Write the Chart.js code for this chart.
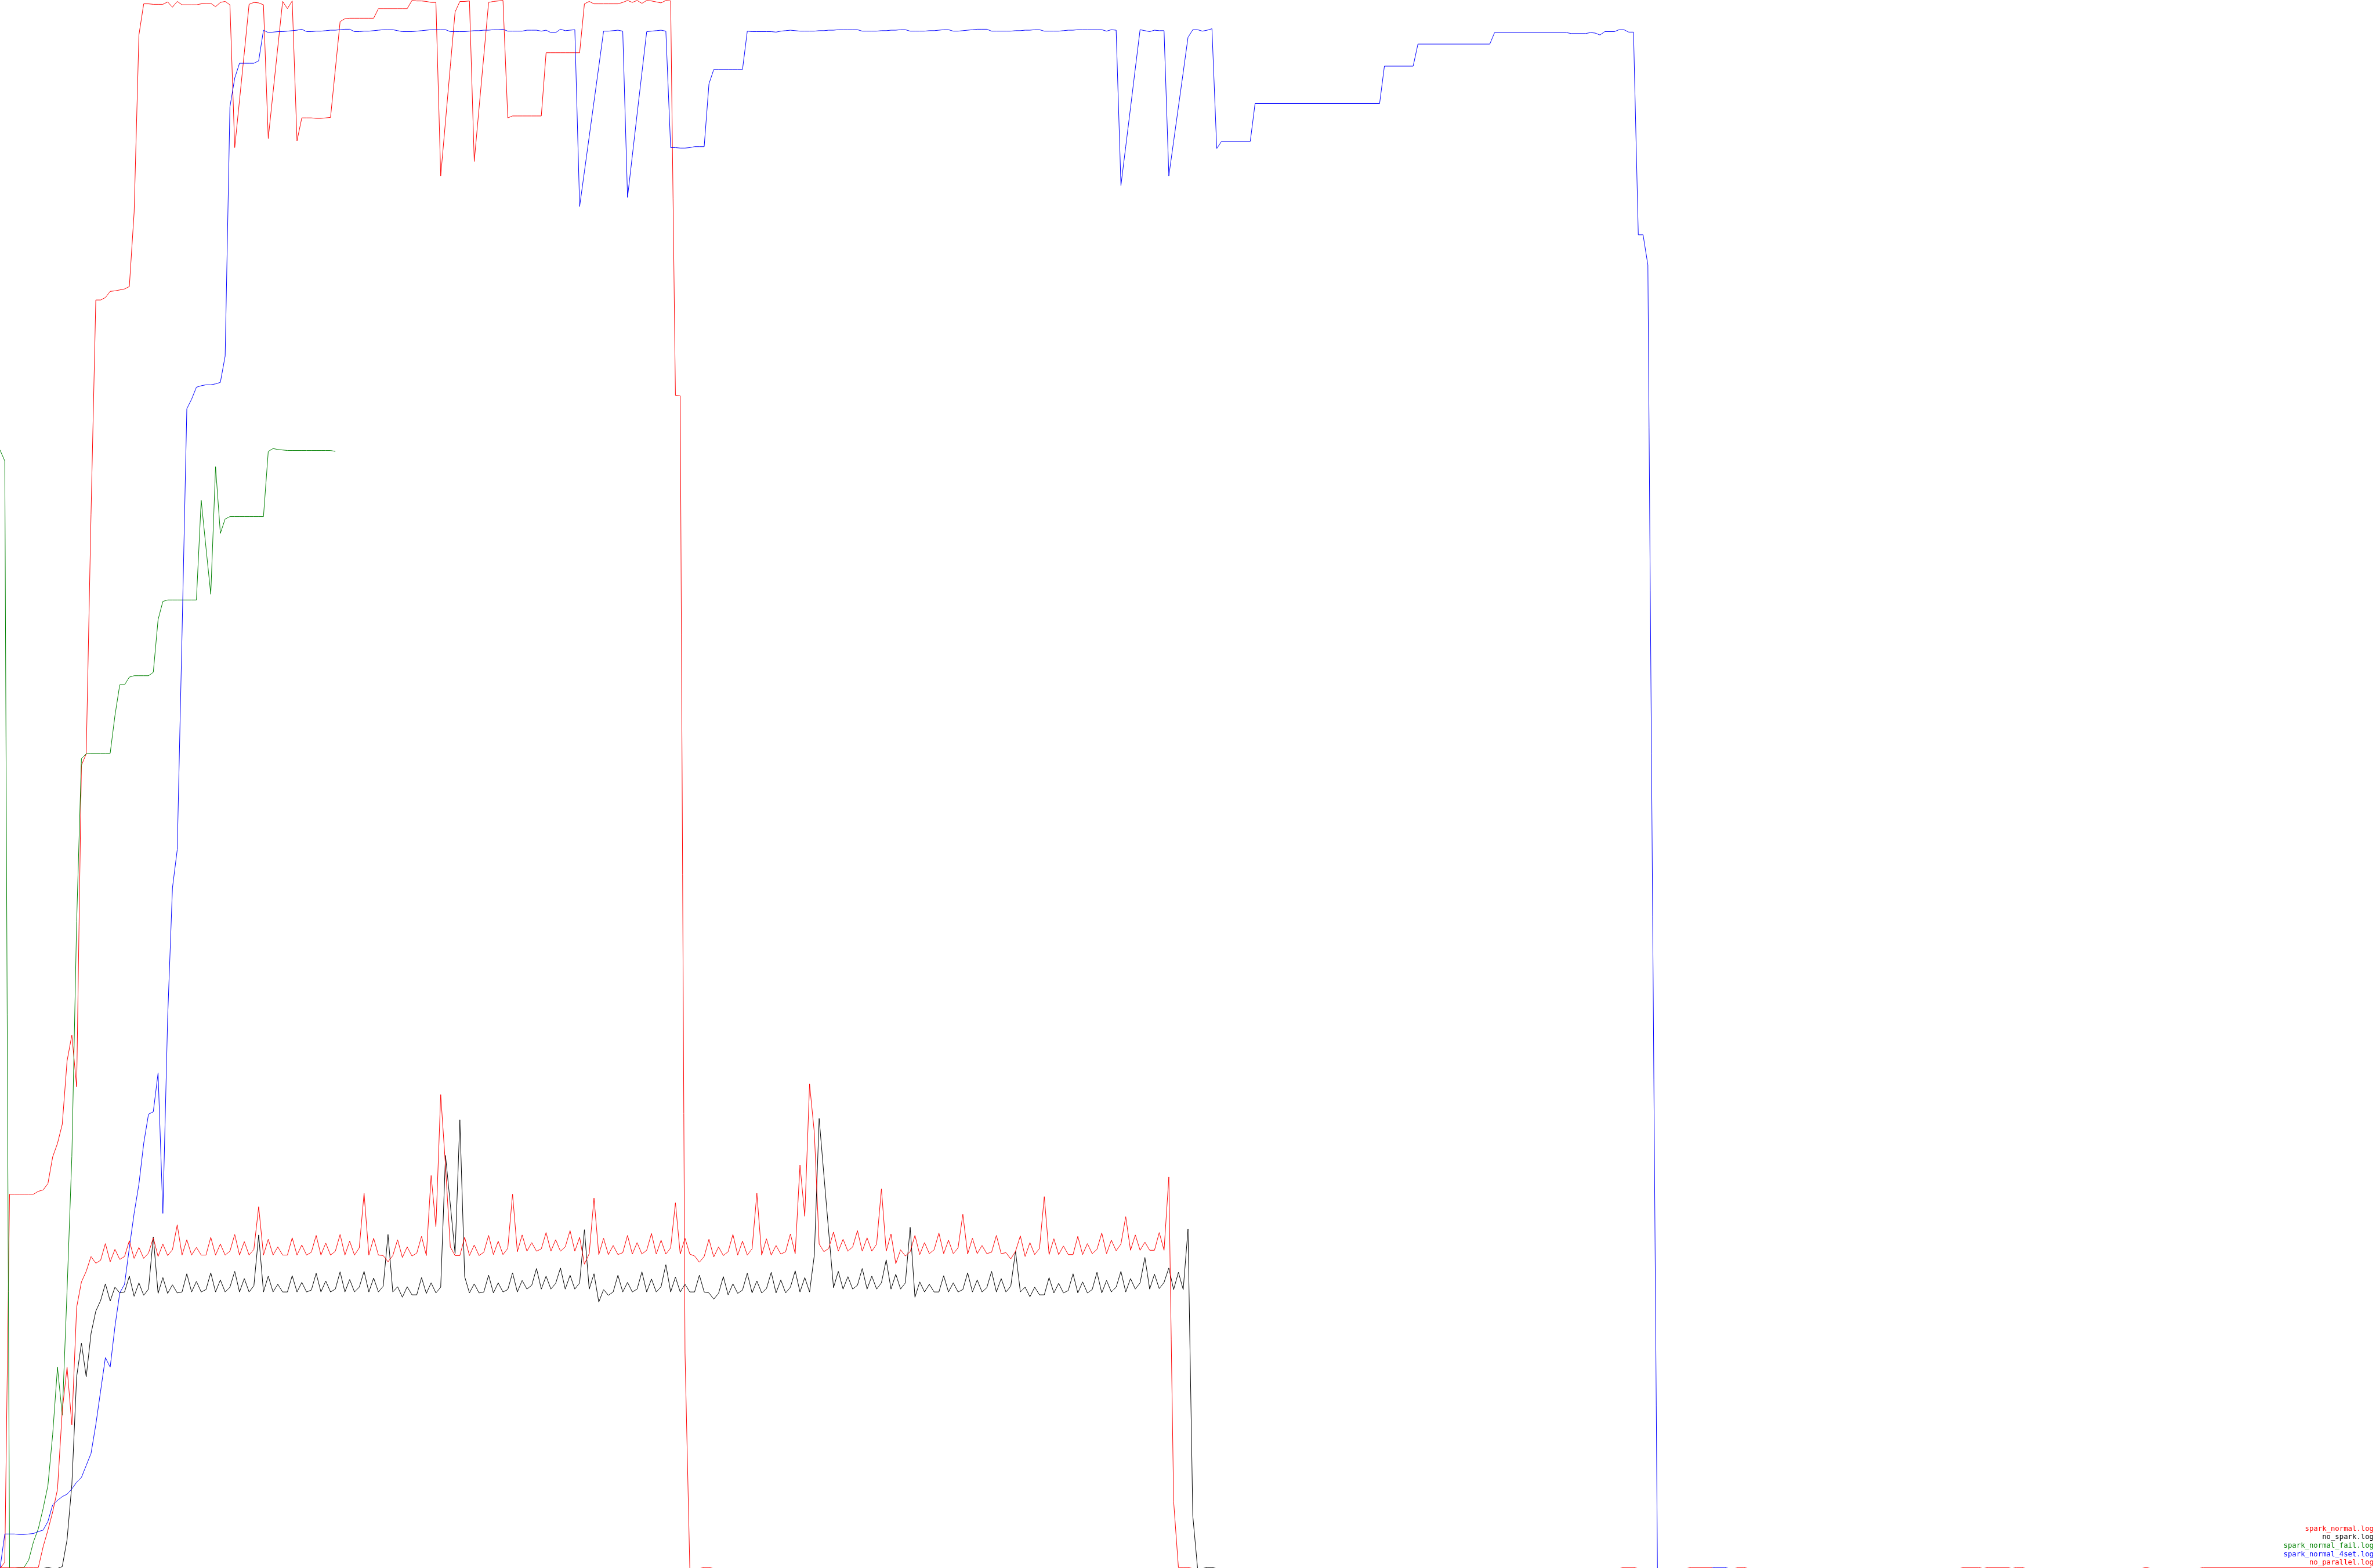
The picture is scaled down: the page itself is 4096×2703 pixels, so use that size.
<!DOCTYPE html>
<html><head><meta charset="utf-8">
<script src="https://cdn.jsdelivr.net/npm/chart.js@4.4.1/dist/chart.umd.min.js"></script>
<style>html,body{margin:0;padding:0;background:#fff;overflow:hidden}#wrap{width:4096px;height:2703px;position:relative}</style>
</head><body><div id="wrap"><canvas id="c" width="4096" height="2703"></canvas></div>
<script>
// time axis: one sample per unit (t), values in plot units (0..3273)
const timeRange = [0, 496];
const valueRange = [1, 3273];

const keyLabels = ["spark_normal.log", "no_spark.log", "spark_normal_fail.log", "spark_normal_4set.log", "no_parallel.log"];
const keyColors = ["#ff0000", "#000000", "#008000", "#0000ff", "#ff0000"];

// spark_normal.log : dense samples from t=0
const sparkNormal = [
0,13,781,781,781,781,781,781,787,790,
803,859,887,927,1059,1113,1005,1676,1700,2200,
2647,2647,2652,2665,2666,2668,2670,2675,2830,3200,
3265,3265,3264,3264,3264,3269,3258,3270,3263,3263,
3263,3263,3265,3266,3266,3259,3268,3270,3263,2965,
3064,3163,3264,3268,3267,3263,2984,3080,3175,3270,
3255,3271,2979,3027,3027,3027,3026,3026,3027,3028,
3128,3228,3234,3235,3235,3235,3235,3235,3235,3255,
3255,3255,3255,3255,3255,3255,3272,3271,3271,3270,
3268,3268,2906,3020,3134,3248,3270,3270,3271,2936,
3047,3157,3268,3270,3271,3272,3027,3031,3031,3031,
3031,3031,3031,3031,3163,3163,3163,3163,3163,3163,
3163,3163,3265,3270,3265,3265,3265,3265,3265,3265,
3268,3272,3268,3272,3266,3272,3271,3269,3267,3272,
3271,2448,2447,450,0,0,0,2,2,0];
const sparkNormalTail = [[338,0],[339,2],[341,2],[342,0],[352,0],[353,2],[357,2],[358,0],[362,0],[363,2],[364,2],[365,0],
[409,0],[410,2],[413,2],[414,0],[415,2],[419,2],[420,0],[421,2],[422,2],[423,0],[447,0],[448,2],[449,0],[459,0],[460,2],[495,2]];

// no_spark.log
const noSpark = [
0,0,0,0,0,0,0,0,0,0,
2,0,0,4,60,175,400,470,400,490,
537,559,594,558,587,575,577,610,568,596,
570,583,692,574,607,574,592,575,577,615,
577,599,577,582,617,577,602,577,587,620,
577,605,577,590,696,577,610,577,593,577,
577,611,577,597,577,581,616,577,600,577,
583,619,577,603,577,587,620,577,606,577,
589,697,577,588,566,588,571,571,607,574,
596,575,587,862,760,657,936,609,575,594,
575,577,612,575,596,577,582,617,577,601,
583,591,626,583,610,583,595,627,583,612,
583,596,707,583,615,556,582,570,577,612,
577,597,577,583,619,577,604,577,588,634,
577,608,577,593,577,577,612,577,575,562,
574,609,571,594,574,581,616,575,600,575,
584,618,575,602,575,587,621,577,607,577,
654,939,820,702,586,620,583,609,583,591,
626,583,610,583,596,644,583,614,583,596,
712,566,598,577,593,577,577,611,577,596,
577,582,617,577,602,577,586,620,577,605,
577,589,662,577,587,567,587,571,571,607,
575,595,575,580,615,575,598,575,582,618,
575,601,577,587,620,577,605,583,596,649,
583,614,584,597,627,582,618,582,708,110,
0,0,2,2,0];

// spark_normal_fail.log
const sparkNormalFail = [
2334,2311,0,0,2,2,18,56,83,125,
173,280,420,320,580,860,1350,1690,1700,1701,
1701,1701,1701,1701,1780,1844,1844,1860,1863,1863,
1863,1863,1870,1980,2018,2021,2021,2021,2021,2021,
2021,2021,2229,2130,2033,2299,2160,2190,2195,2195,
2195,2195,2195,2195,2195,2195,2331,2337,2335,2334,
2333,2333,2333,2333,2333,2333,2333,2333,2333,2333,
2331];

// spark_normal_4set.log
const sparkNormal4set = [
0,72,72,72,71,71,72,73,77,80,
98,133,142,150,155,166,180,190,215,240,
300,370,440,420,505,575,593,669,741,802,
887,948,953,1034,741,1150,1420,1500,1950,2420,
2440,2465,2468,2470,2470,2472,2475,2530,3050,3110,
3141,3141,3141,3141,3146,3210,3205,3206,3207,3207,
3208,3209,3210,3212,3207,3207,3208,3208,3209,3210,
3210,3211,3212,3212,3207,3207,3208,3208,3209,3210,
3211,3211,3211,3209,3207,3207,3207,3208,3209,3210,
3211,3211,3211,3211,3207,3207,3207,3207,3208,3209,
3209,3210,3210,3211,3211,3212,3208,3208,3208,3208,
3210,3210,3210,3208,3210,3205,3205,3212,3209,3210,
3211,2842,2915,2988,3061,3134,3208,3208,3209,3210,
3208,2861,2948,3035,3121,3207,3208,3209,3210,3208,
2965,2965,2964,2964,2965,2967,2967,2967,3098,3128,
3128,3128,3128,3128,3128,3128,3208,3207,3207,3207,
3207,3207,3206,3208,3209,3210,3209,3208,3208,3208,
3208,3209,3209,3210,3210,3211,3211,3211,3211,3211,
3208,3208,3208,3208,3209,3209,3210,3210,3211,3211,
3208,3208,3208,3208,3209,3209,3210,3211,3211,3208,
3208,3209,3210,3211,3212,3212,3212,3208,3208,3208,
3208,3208,3209,3209,3210,3210,3211,3211,3208,3208,
3208,3208,3209,3210,3210,3211,3211,3211,3211,3211,
3211,3208,3211,3210,2886,2967,3048,3130,3211,3209,
3207,3210,3209,3209,2906,2978,3050,3122,3195,3211,
3211,3208,3210,3213];
const sparkNormal4setTail = [[254,2963],[255,2978],[261,2978],[262,3057],[288,3057],[289,3135],[295,3135],[296,3181],[311,3181],
[312,3205],[327,3205],[328,3203],[331,3203],[332,3205],[333,3204],[334,3200],[335,3207],[337,3207],[338,3211],[339,3211],
[340,3206],[341,3206],[342,2783],[343,2783],[344,2720],[345,1360],[346,0],[357,0],[358,2],[360,2],[361,0]];

// no_parallel.log
const noParallel = [
2,2,2,2,2,2,2,2,2,45,
80,118,165,330,420,300,545,598,620,651,
637,643,678,640,666,645,651,684,647,670,
647,658,690,651,677,653,665,717,654,686,
654,670,654,654,691,654,677,654,662,697,
654,682,654,666,755,654,687,654,671,654,
654,690,654,675,654,660,695,654,679,654,
662,697,654,683,654,669,783,654,689,654,
653,640,653,686,649,671,652,658,693,653,
820,713,989,840,671,653,653,691,653,675,
653,660,695,655,683,655,668,781,661,696,
662,680,662,667,701,662,686,662,671,705,
662,691,635,657,773,655,689,655,674,655,
659,695,656,680,656,664,699,656,685,656,
669,763,656,689,656,652,639,651,687,650,
671,653,661,697,654,683,654,667,783,654,
688,654,674,656,661,698,657,842,735,1011,
909,677,661,668,702,662,687,662,671,705,
662,690,662,677,792,662,698,636,665,652,
661,695,655,680,657,665,700,657,685,657,
669,739,656,689,657,674,657,660,695,657,
659,646,662,694,651,680,655,668,776,655,
688,655,673,655,655,693,655,678,657,666,
700,657,685,663,677,734,664,696,664,681,
664,664,701,664,817,140,2,2,2,0];

function pts(values, tail) {
  const out = values.map((v, i) => ({x: i, y: v}));
  (tail || []).forEach(p => out.push({x: p[0], y: p[1]}));
  return out;
}

const keyPlugin = {
  id: 'textKey',
  afterDatasetsDraw(chart) {
    const ctx = chart.ctx;
    ctx.save();
    ctx.font = '12.3px "DejaVu Sans Mono"';
    ctx.textAlign = 'right';
    ctx.textBaseline = 'alphabetic';
    keyLabels.forEach((label, i) => {
      ctx.fillStyle = keyColors[i];
      ctx.fillText(label, 4092, 2638.5 + i * 14.7);
    });
    ctx.restore();
  }
};

const ds = (label, data, color, order) => ({
  label, data, borderColor: color, backgroundColor: color, borderWidth: 1,
  pointRadius: 0, pointHoverRadius: 0, tension: 0, fill: false, order
});

new Chart(document.getElementById('c'), {
  type: 'line',
  data: {
    datasets: [
      ds(keyLabels[0], pts(sparkNormal, sparkNormalTail), keyColors[0], 5),
      ds(keyLabels[1], pts(noSpark), keyColors[1], 4),
      ds(keyLabels[2], pts(sparkNormalFail), keyColors[2], 3),
      ds(keyLabels[3], pts(sparkNormal4set, sparkNormal4setTail), keyColors[3], 2),
      ds(keyLabels[4], pts(noParallel), keyColors[4], 1)
    ]
  },
  options: {
    responsive: false,
    devicePixelRatio: 1,
    animation: false,
    layout: {padding: 0},
    plugins: {legend: {display: false}, tooltip: {enabled: false}},
    events: [],
    scales: {
      x: {type: 'linear', min: timeRange[0], max: timeRange[1], display: false},
      y: {type: 'linear', min: valueRange[0], max: valueRange[1], display: false}
    }
  },
  plugins: [keyPlugin]
});
</script></body></html>
